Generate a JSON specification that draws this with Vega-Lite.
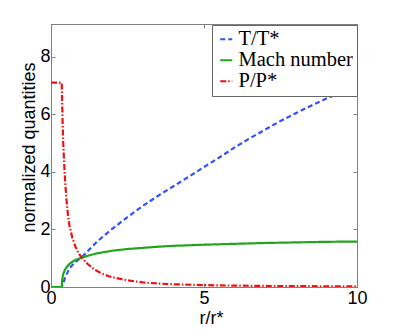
{
  "$schema": "https://vega.github.io/schema/vega-lite/v6.json",
  "autosize": {"type": "none"},
  "padding": {"left": 51, "top": 24, "right": 38, "bottom": 42},
  "width": 306,
  "height": 263,
  "background": "white",
  "config": {
    "view": {"stroke": "#808080", "strokeWidth": 1},
    "axis": {
      "grid": false,
      "domainColor": "#808080",
      "tickColor": "#808080",
      "labelColor": "black",
      "labelFont": "Liberation Sans",
      "labelFontSize": 18,
      "labelFlush": false,
      "titleFont": "Liberation Sans",
      "titleFontSize": 18,
      "titleFontWeight": "normal",
      "titleColor": "black",
      "tickSize": -4
    },
    "legend": {
      "orient": "none",
      "legendX": 161,
      "legendY": 1,
      "direction": "vertical",
      "fillColor": "white",
      "strokeColor": "#666666",
      "padding": 4,
      "symbolType": "stroke",
      "symbolSize": 144,
      "symbolStrokeWidth": 2,
      "labelOffset": 2,
      "labelFont": "Liberation Serif",
      "labelFontSize": 20.5,
      "labelColor": "black",
      "rowPadding": -3,
      "labelLimit": 300
    }
  },
  "data": {
    "values": [
      {"r": 0, "v": 0, "s": "T/T*"},
      {"r": 0.35, "v": 0, "s": "T/T*"},
      {"r": 0.4, "v": 0.12, "s": "T/T*"},
      {"r": 0.45, "v": 0.3, "s": "T/T*"},
      {"r": 0.5, "v": 0.42, "s": "T/T*"},
      {"r": 0.62, "v": 0.68, "s": "T/T*"},
      {"r": 0.8, "v": 0.87, "s": "T/T*"},
      {"r": 0.9, "v": 0.95, "s": "T/T*"},
      {"r": 1.0, "v": 1.03, "s": "T/T*"},
      {"r": 1.25, "v": 1.3, "s": "T/T*"},
      {"r": 1.5, "v": 1.57, "s": "T/T*"},
      {"r": 1.75, "v": 1.8, "s": "T/T*"},
      {"r": 2, "v": 2.02, "s": "T/T*"},
      {"r": 2.5, "v": 2.43, "s": "T/T*"},
      {"r": 3, "v": 2.82, "s": "T/T*"},
      {"r": 3.5, "v": 3.17, "s": "T/T*"},
      {"r": 4, "v": 3.5, "s": "T/T*"},
      {"r": 4.5, "v": 3.83, "s": "T/T*"},
      {"r": 5, "v": 4.17, "s": "T/T*"},
      {"r": 5.5, "v": 4.5, "s": "T/T*"},
      {"r": 6, "v": 4.85, "s": "T/T*"},
      {"r": 6.5, "v": 5.17, "s": "T/T*"},
      {"r": 7, "v": 5.47, "s": "T/T*"},
      {"r": 7.5, "v": 5.77, "s": "T/T*"},
      {"r": 8, "v": 6.04, "s": "T/T*"},
      {"r": 8.5, "v": 6.3, "s": "T/T*"},
      {"r": 9, "v": 6.55, "s": "T/T*"},
      {"r": 9.5, "v": 6.77, "s": "T/T*"},
      {"r": 10, "v": 6.98, "s": "T/T*"},
      {"r": 0, "v": 0, "s": "Mach number"},
      {"r": 0.35, "v": 0, "s": "Mach number"},
      {"r": 0.36, "v": 0.2, "s": "Mach number"},
      {"r": 0.38, "v": 0.35, "s": "Mach number"},
      {"r": 0.4, "v": 0.45, "s": "Mach number"},
      {"r": 0.45, "v": 0.58, "s": "Mach number"},
      {"r": 0.5, "v": 0.67, "s": "Mach number"},
      {"r": 0.6, "v": 0.8, "s": "Mach number"},
      {"r": 0.7, "v": 0.88, "s": "Mach number"},
      {"r": 0.8, "v": 0.94, "s": "Mach number"},
      {"r": 0.9, "v": 0.98, "s": "Mach number"},
      {"r": 1.0, "v": 1.02, "s": "Mach number"},
      {"r": 1.25, "v": 1.1, "s": "Mach number"},
      {"r": 1.5, "v": 1.17, "s": "Mach number"},
      {"r": 2, "v": 1.26, "s": "Mach number"},
      {"r": 2.5, "v": 1.32, "s": "Mach number"},
      {"r": 3, "v": 1.36, "s": "Mach number"},
      {"r": 3.5, "v": 1.4, "s": "Mach number"},
      {"r": 4, "v": 1.43, "s": "Mach number"},
      {"r": 5, "v": 1.47, "s": "Mach number"},
      {"r": 6, "v": 1.5, "s": "Mach number"},
      {"r": 7, "v": 1.53, "s": "Mach number"},
      {"r": 8, "v": 1.55, "s": "Mach number"},
      {"r": 9, "v": 1.57, "s": "Mach number"},
      {"r": 10, "v": 1.58, "s": "Mach number"},
      {"r": 0, "v": 7.1, "s": "P/P*"},
      {"r": 0.35, "v": 7.1, "s": "P/P*"},
      {"r": 0.36, "v": 6.6, "s": "P/P*"},
      {"r": 0.38, "v": 5.7, "s": "P/P*"},
      {"r": 0.4, "v": 5.0, "s": "P/P*"},
      {"r": 0.43, "v": 4.3, "s": "P/P*"},
      {"r": 0.46, "v": 3.7, "s": "P/P*"},
      {"r": 0.5, "v": 3.1, "s": "P/P*"},
      {"r": 0.55, "v": 2.55, "s": "P/P*"},
      {"r": 0.6, "v": 2.15, "s": "P/P*"},
      {"r": 0.7, "v": 1.7, "s": "P/P*"},
      {"r": 0.8, "v": 1.4, "s": "P/P*"},
      {"r": 0.9, "v": 1.18, "s": "P/P*"},
      {"r": 1.0, "v": 1.02, "s": "P/P*"},
      {"r": 1.2, "v": 0.8, "s": "P/P*"},
      {"r": 1.4, "v": 0.62, "s": "P/P*"},
      {"r": 1.6, "v": 0.5, "s": "P/P*"},
      {"r": 1.8, "v": 0.41, "s": "P/P*"},
      {"r": 2, "v": 0.34, "s": "P/P*"},
      {"r": 2.5, "v": 0.23, "s": "P/P*"},
      {"r": 3, "v": 0.16, "s": "P/P*"},
      {"r": 3.5, "v": 0.12, "s": "P/P*"},
      {"r": 4, "v": 0.095, "s": "P/P*"},
      {"r": 5, "v": 0.065, "s": "P/P*"},
      {"r": 6, "v": 0.048, "s": "P/P*"},
      {"r": 7, "v": 0.037, "s": "P/P*"},
      {"r": 8, "v": 0.03, "s": "P/P*"},
      {"r": 9, "v": 0.025, "s": "P/P*"},
      {"r": 10, "v": 0.02, "s": "P/P*"}
    ]
  },
  "layer": [
    {
      "mark": {"type": "line", "strokeWidth": 2.2, "clip": true},
      "encoding": {
        "x": {
          "field": "r", "type": "quantitative",
          "scale": {"domain": [0, 10], "nice": false, "zero": false, "padding": 0},
          "axis": {
            "orient": "bottom", "values": [0, 5, 10], "title": "r/r*",
            "labelPadding": 6, "titleX": 160, "titleY": 36,
            "titleBaseline": "alphabetic", "titleAlign": "center"
          }
        },
        "y": {
          "field": "v", "type": "quantitative",
          "scale": {"domain": [0, 9.14], "nice": false, "zero": false, "padding": 0},
          "axis": {
            "orient": "left", "values": [0, 2, 4, 6, 8], "title": "normalized quantities",
            "labelPadding": 5, "titleX": -22, "titleY": 123,
            "titleBaseline": "middle", "titleAlign": "center", "titleAngle": -90
          }
        },
        "color": {
          "field": "s", "type": "nominal",
          "scale": {"domain": ["T/T*", "Mach number", "P/P*"], "range": ["#3050ff", "#22a51c", "#f01010"]},
          "legend": {"title": null}
        },
        "strokeDash": {
          "field": "s", "type": "nominal",
          "scale": {"domain": ["T/T*", "Mach number", "P/P*"], "range": [[5, 3], [1, 0], [6, 2, 1.5, 2]]},
          "legend": {"title": null}
        },
        "order": {"field": "r", "type": "quantitative"}
      }
    },
    {
      "mark": {"type": "line", "opacity": 0, "strokeOpacity": 0},
      "encoding": {
        "x": {
          "field": "r", "type": "quantitative",
          "scale": {"domain": [0, 10], "nice": false, "zero": false, "padding": 0},
          "axis": {"orient": "top", "values": [0, 5, 10], "labels": false, "title": null}
        },
        "y": {
          "field": "v", "type": "quantitative",
          "scale": {"domain": [0, 9.14], "nice": false, "zero": false, "padding": 0},
          "axis": {"orient": "right", "values": [0, 2, 4, 6, 8], "labels": false, "title": null}
        }
      }
    }
  ],
  "resolve": {"axis": {"x": "independent", "y": "independent"}}
}
